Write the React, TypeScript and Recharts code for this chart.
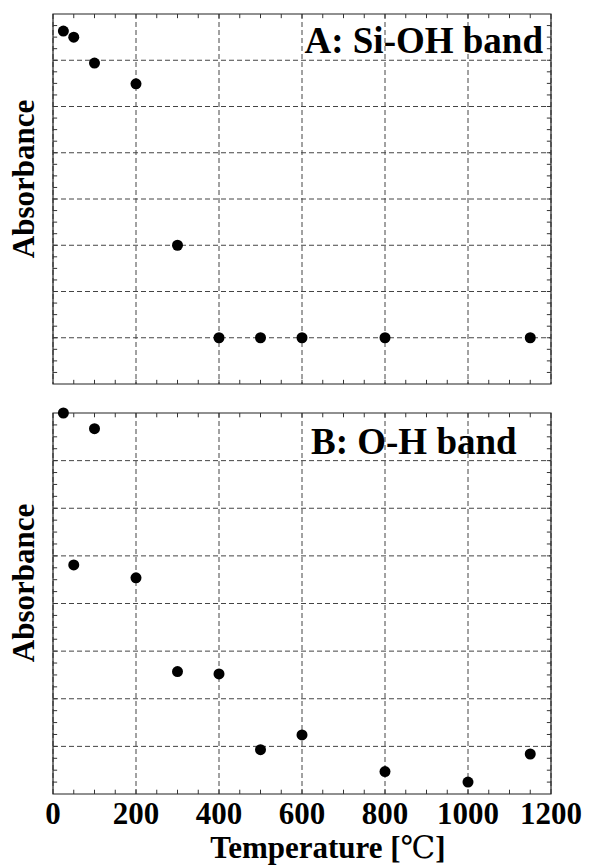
import React from 'react';
import {
  CartesianGrid,
  Label,
  ReferenceArea,
  ReferenceLine,
  Scatter,
  ScatterChart,
  XAxis,
  YAxis,
} from 'recharts';

// temperature (°C) vs absorbance (arb. units)
const siohTemp = [25, 50, 100, 200, 300, 400, 500, 600, 800, 1150];
const siohAbs = [7.63, 7.5, 6.94, 6.49, 3.0, 1.0, 1.0, 1.0, 1.0, 1.0];

const ohTemp = [25, 50, 100, 200, 300, 400, 500, 600, 800, 1000, 1150];
const ohAbs = [8.0, 4.81, 7.67, 4.54, 2.57, 2.52, 0.93, 1.24, 0.47, 0.25, 0.84];

const xTicks = [0, 200, 400, 600, 800, 1000, 1200];
const yTicks = [0, 1, 2, 3, 4, 5, 6, 7, 8];
const xMinor = Array.from({ length: 23 }, (_, i) => (i + 1) * 50);
const yMinor = Array.from({ length: 31 }, (_, i) => (i + 1) * 0.25);

const FONT = '"Liberation Serif", "DejaVu Serif", serif';
const W = 591;

const toPoints = (xs: number[], ys: number[]) => xs.map((t, i) => ({ t, a: ys[i] }));

const dot = (p: any) => <circle cx={p.cx} cy={p.cy} r={5.5} fill='#000' />;

function yLabel(cy: number) {
  return () => (
    <text
      x={23}
      y={cy}
      transform={`rotate(-90 23 ${cy})`}
      textAnchor='middle'
      dominantBaseline='central'
      fontFamily={FONT}
      fontWeight='bold'
      fontSize={31}
      fill='#000'
    >
      Absorbance
    </text>
  );
}

// horizontal dashed grid (the y axis carries no ticks, so draw them here)
function hGrid() {
  return yTicks
    .filter((v) => v > 0 && v < 8)
    .map((v) => <ReferenceLine key={`h${v}`} y={v} stroke='#444' strokeDasharray='5 3' />);
}

// small inward ticks along the frame, as on the original plot
function minorTicks() {
  const out: React.ReactNode[] = [];
  xMinor.forEach((v) => {
    out.push(
      <ReferenceLine key={`xb${v}`} segment={[{ x: v, y: 0 }, { x: v, y: 0.09 }]} stroke='#333' />,
      <ReferenceLine key={`xt${v}`} segment={[{ x: v, y: 8 }, { x: v, y: 7.91 }]} stroke='#333' />,
    );
  });
  yMinor.forEach((v) => {
    out.push(
      <ReferenceLine key={`yl${v}`} segment={[{ x: 0, y: v }, { x: 10, y: v }]} stroke='#333' />,
      <ReferenceLine key={`yr${v}`} segment={[{ x: 1200, y: v }, { x: 1190, y: v }]} stroke='#333' />,
    );
  });
  return out;
}

function Panel({
  data,
  height,
  margin,
  showX,
  labelY,
}: {
  data: { t: number; a: number }[];
  height: number;
  margin: any;
  showX: boolean;
  labelY: number;
}) {
  return (
    <ScatterChart width={W} height={height} margin={margin}>
      <CartesianGrid stroke='#444' strokeDasharray='5 3' horizontal={false} verticalValues={xTicks} />
      <XAxis
        type='number'
        dataKey='t'
        domain={[0, 1200]}
        ticks={xTicks}
        interval={0}
        hide={!showX}
        height={72}
        axisLine={false}
        tickLine={false}
        tickMargin={2}
        tick={{ fontSize: 31, fontWeight: 'bold', fill: '#000', fontFamily: FONT }}
      >
        {showX && (
          <Label
            content={() => (
              <text
                x={328}
                y={458}
                textAnchor='middle'
                fontFamily={FONT}
                fontWeight='bold'
                fontSize={31}
                fill='#000'
              >
                Temperature [<tspan fontWeight='normal'>℃</tspan>]
              </text>
            )}
          />
        )}
      </XAxis>
      <YAxis
        type='number'
        dataKey='a'
        domain={[0, 8]}
        ticks={yTicks}
        width={53}
        tick={false}
        axisLine={false}
        tickLine={false}
      >
        <Label content={yLabel(labelY)} />
      </YAxis>
      {hGrid()}
      {minorTicks()}
      <ReferenceArea x1={0} x2={1200} y1={0} y2={8} fill='none' stroke='#222' strokeWidth={1.2} />
      <Scatter data={data} shape={dot} isAnimationActive={false} />
    </ScatterChart>
  );
}

export default function App() {
  return (
    <div
      style={{
        position: 'absolute',
        left: 0,
        top: 0,
        width: W,
        height: 866,
        background: '#fff',
        fontFamily: FONT,
      }}
    >
      <div style={{ position: 'absolute', left: 0, top: 0 }}>
        <Panel
          data={toPoints(siohTemp, siohAbs)}
          height={400}
          margin={{ top: 14, right: 40, bottom: 16, left: 0 }}
          showX={false}
          labelY={179}
        />
      </div>
      <div style={{ position: 'absolute', left: 0, top: 400 }}>
        <Panel
          data={toPoints(ohTemp, ohAbs)}
          height={466}
          margin={{ top: 13, right: 40, bottom: 0, left: 0 }}
          showX
          labelY={183}
        />
      </div>
      <div
        style={{
          position: 'absolute',
          right: W - 543,
          top: 22,
          fontSize: 37,
          lineHeight: '37px',
          fontWeight: 'bold',
          whiteSpace: 'nowrap',
        }}
      >
        A: Si-OH band
      </div>
      <div
        style={{
          position: 'absolute',
          left: 311,
          top: 423,
          fontSize: 37,
          lineHeight: '37px',
          fontWeight: 'bold',
          whiteSpace: 'nowrap',
        }}
      >
        B: O-H band
      </div>
    </div>
  );
}
